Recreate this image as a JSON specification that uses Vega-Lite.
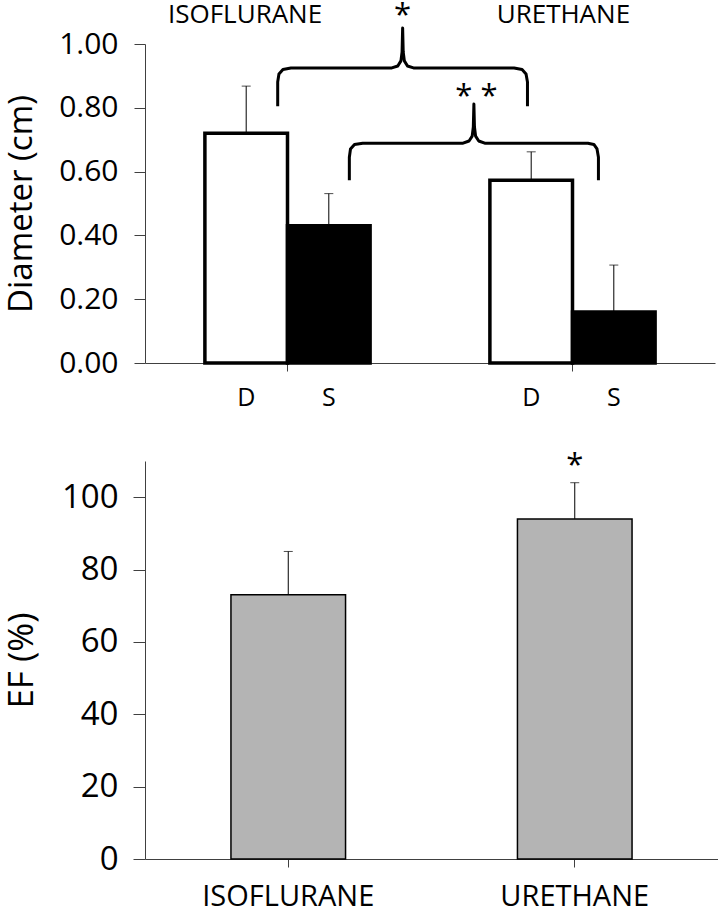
{
  "$schema": "https://vega.github.io/schema/vega-lite/v6.json",
  "padding": {"top": 0, "left": 4, "right": 0, "bottom": 0},
  "background": "white",
  "config": {
    "font": "Open Sans",
    "view": {"stroke": null},
    "axis": {"domainColor": "#404040", "tickColor": "#404040", "labelColor": "black", "titleColor": "black", "titleFontWeight": "normal", "grid": false, "labelFont": "Open Sans", "titleFont": "Open Sans"},
    "text": {"font": "Open Sans", "color": "black"}
  },
  "spacing": 37,
  "vconcat": [
    {
      "width": 570,
      "height": 319,
      "layer": [
        {
          "data": {"values": [
            {"group": "ISOFLURANE", "phase": "D", "mean": 0.72, "upper": 0.868},
            {"group": "ISOFLURANE", "phase": "S", "mean": 0.43, "upper": 0.531},
            {"group": "URETHANE", "phase": "D", "mean": 0.573, "upper": 0.662},
            {"group": "URETHANE", "phase": "S", "mean": 0.16, "upper": 0.307}
          ]},
          "encoding": {
            "x": {"field": "group", "type": "nominal", "sort": ["ISOFLURANE", "URETHANE"],
                  "scale": {"paddingInner": 0, "paddingOuter": 0},
                  "axis": {"title": null, "labels": false, "ticks": true, "tickSize": 8, "domainWidth": 1}},
            "xOffset": {"field": "phase", "type": "nominal", "sort": ["D", "S"], "scale": {"paddingInner": 0, "paddingOuter": 0.725}},
            "y": {"field": "mean", "type": "quantitative",
                  "scale": {"domain": [0, 1], "nice": false, "zero": true},
                  "axis": {"title": "Diameter (cm)", "values": [0, 0.2, 0.4, 0.6, 0.8, 1.0], "format": ".2f",
                           "labelFontSize": 30, "titleFontSize": 33, "tickSize": 11, "labelPadding": 16, "titlePadding": 20}}
          },
          "layer": [
            {
              "mark": {"type": "bar", "stroke": "black", "strokeWidth": 3.5},
              "encoding": {
                "fill": {"field": "phase", "type": "nominal", "scale": {"domain": ["D", "S"], "range": ["white", "black"]}, "legend": null}
              }
            },
            {
              "mark": {"type": "rule", "color": "black", "strokeWidth": 1},
              "encoding": {"y2": {"field": "upper"}}
            },
            {
              "mark": {"type": "tick", "orient": "horizontal", "color": "black", "size": 9, "thickness": 1},
              "encoding": {"y": {"field": "upper", "type": "quantitative"}}
            },
            {
              "mark": {"type": "text", "fontSize": 25, "baseline": "alphabetic", "align": "center"},
              "encoding": {"y": {"datum": -0.136}, "text": {"field": "phase"}}
            }
          ]
        },
        {
          "layer": [
            {
              "data": {"values": [
                {"b": 1, "i": 0, "px": 0.4656, "py": 0.805},
                {"b": 1, "i": 1, "px": 0.4656, "py": 0.881},
                {"b": 1, "i": 2, "px": 0.470, "py": 0.906},
                {"b": 1, "i": 3, "px": 0.484, "py": 0.920},
                {"b": 1, "i": 4, "px": 0.512, "py": 0.925},
                {"b": 1, "i": 5, "px": 0.866, "py": 0.925},
                {"b": 1, "i": 6, "px": 0.887, "py": 0.931},
                {"b": 1, "i": 7, "px": 0.898, "py": 0.947},
                {"b": 1, "i": 8, "px": 0.902, "py": 0.975},
                {"b": 1, "i": 9, "px": 0.904, "py": 1.050},
                {"b": 1, "i": 10, "px": 0.906, "py": 0.975},
                {"b": 1, "i": 11, "px": 0.910, "py": 0.947},
                {"b": 1, "i": 12, "px": 0.921, "py": 0.931},
                {"b": 1, "i": 13, "px": 0.942, "py": 0.925},
                {"b": 1, "i": 14, "px": 1.295, "py": 0.925},
                {"b": 1, "i": 15, "px": 1.323, "py": 0.920},
                {"b": 1, "i": 16, "px": 1.337, "py": 0.906},
                {"b": 1, "i": 17, "px": 1.342, "py": 0.881},
                {"b": 1, "i": 18, "px": 1.342, "py": 0.805},
                {"b": 2, "i": 0, "px": 0.717, "py": 0.573},
                {"b": 2, "i": 1, "px": 0.717, "py": 0.645},
                {"b": 2, "i": 2, "px": 0.721, "py": 0.671},
                {"b": 2, "i": 3, "px": 0.735, "py": 0.685},
                {"b": 2, "i": 4, "px": 0.764, "py": 0.689},
                {"b": 2, "i": 5, "px": 1.116, "py": 0.689},
                {"b": 2, "i": 6, "px": 1.137, "py": 0.696},
                {"b": 2, "i": 7, "px": 1.148, "py": 0.711},
                {"b": 2, "i": 8, "px": 1.152, "py": 0.740},
                {"b": 2, "i": 9, "px": 1.154, "py": 0.812},
                {"b": 2, "i": 10, "px": 1.156, "py": 0.740},
                {"b": 2, "i": 11, "px": 1.160, "py": 0.711},
                {"b": 2, "i": 12, "px": 1.171, "py": 0.696},
                {"b": 2, "i": 13, "px": 1.192, "py": 0.689},
                {"b": 2, "i": 14, "px": 1.554, "py": 0.689},
                {"b": 2, "i": 15, "px": 1.575, "py": 0.685},
                {"b": 2, "i": 16, "px": 1.586, "py": 0.671},
                {"b": 2, "i": 17, "px": 1.591, "py": 0.645},
                {"b": 2, "i": 18, "px": 1.591, "py": 0.573}
              ]},
              "mark": {"type": "line", "color": "black", "strokeWidth": 3, "strokeJoin": "round", "strokeCap": "butt", "clip": false},
              "encoding": {
                "x": {"field": "px", "type": "quantitative", "scale": {"domain": [0, 2], "nice": false, "zero": true}, "axis": null},
                "y": {"field": "py", "type": "quantitative"},
                "detail": {"field": "b", "type": "nominal"},
                "order": {"field": "i", "type": "quantitative"}
              }
            },
            {
              "data": {"values": [
                {"px": 0.904, "py": 1.058, "label": "*"},
                {"px": 1.163, "py": 0.805, "label": "* *"}
              ]},
              "mark": {"type": "text", "fontSize": 31, "baseline": "alphabetic", "align": "center"},
              "encoding": {
                "x": {"field": "px", "type": "quantitative", "scale": {"domain": [0, 2], "nice": false}, "axis": null},
                "y": {"field": "py", "type": "quantitative"},
                "text": {"field": "label"}
              }
            },
            {
              "data": {"values": [
                {"px": 0.351, "py": 1.067, "label": "ISOFLURANE"},
                {"px": 1.468, "py": 1.067, "label": "URETHANE"}
              ]},
              "mark": {"type": "text", "fontSize": 26, "baseline": "alphabetic", "align": "center"},
              "encoding": {
                "x": {"field": "px", "type": "quantitative", "scale": {"domain": [0, 2], "nice": false}, "axis": null},
                "y": {"field": "py", "type": "quantitative"},
                "text": {"field": "label"}
              }
            }
          ]
        }
      ],
      "resolve": {"scale": {"x": "independent"}}
    },
    {
      "width": 573,
      "height": 398,
      "data": {"values": [
        {"group": "ISOFLURANE", "mean": 73, "upper": 85, "sig": ""},
        {"group": "URETHANE", "mean": 94, "upper": 104, "sig": "*"}
      ]},
      "encoding": {
        "x": {"field": "group", "type": "nominal", "sort": ["ISOFLURANE", "URETHANE"],
              "scale": {"paddingInner": 0, "paddingOuter": 0},
              "axis": {"title": null, "labelAngle": 0, "labelFontSize": 29, "tickSize": 8, "labelPadding": 15}},
        "y": {"field": "mean", "type": "quantitative",
              "scale": {"domain": [0, 110], "nice": false},
              "axis": {"title": "EF  (%)", "values": [0, 20, 40, 60, 80, 100],
                       "labelFontSize": 33, "titleFontSize": 35, "tickSize": 12, "labelPadding": 15, "titlePadding": 22}}
      },
      "layer": [
        {"mark": {"type": "bar", "fill": "#b4b4b4", "stroke": "black", "strokeWidth": 1.5, "width": {"band": 0.4}}},
        {"mark": {"type": "rule", "color": "black", "strokeWidth": 1}, "encoding": {"y2": {"field": "upper"}}},
        {"mark": {"type": "tick", "orient": "horizontal", "color": "black", "size": 9, "thickness": 1}, "encoding": {"y": {"field": "upper", "type": "quantitative"}}},
        {"mark": {"type": "text", "fontSize": 31, "baseline": "alphabetic", "align": "center", "dy": -8}, "encoding": {"y": {"field": "upper", "type": "quantitative"}, "text": {"field": "sig"}}}
      ]
    }
  ]
}
